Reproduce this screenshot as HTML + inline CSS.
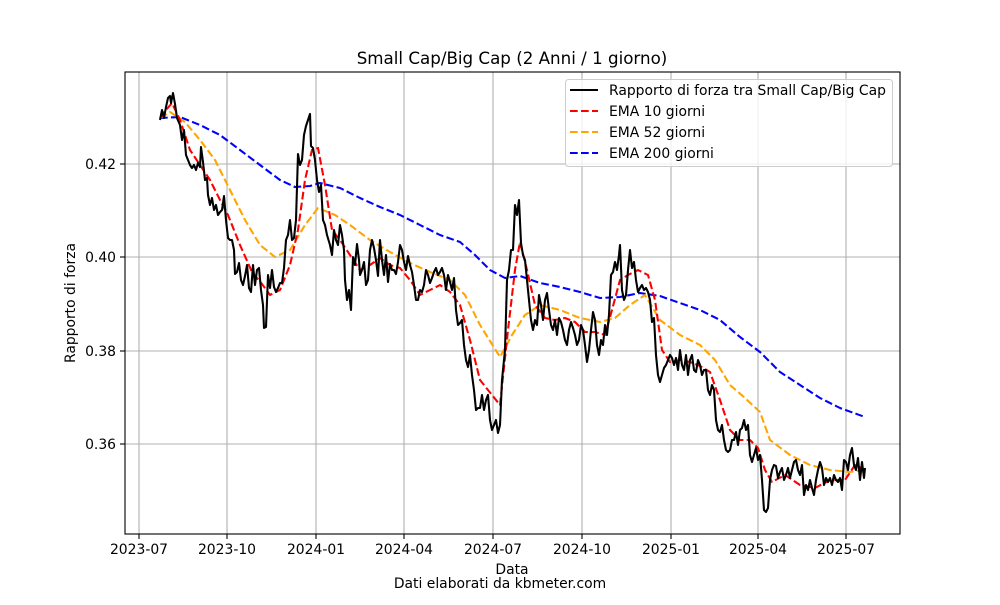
<!DOCTYPE html>
<html><head><meta charset="utf-8"><style>
body{margin:0;background:#fff}
svg text{font-family:"DejaVu Sans","Liberation Sans",sans-serif;fill:#000}
</style></head><body>
<svg width="1000" height="600" viewBox="0 0 1000 600" xmlns="http://www.w3.org/2000/svg">
<rect width="1000" height="600" fill="#fff"/>
<g stroke="#b0b0b0" stroke-width="1.1">
<line x1="139" y1="72" x2="139" y2="534"/><line x1="227" y1="72" x2="227" y2="534"/><line x1="316" y1="72" x2="316" y2="534"/><line x1="404" y1="72" x2="404" y2="534"/><line x1="493" y1="72" x2="493" y2="534"/><line x1="582" y1="72" x2="582" y2="534"/><line x1="671" y1="72" x2="671" y2="534"/><line x1="758" y1="72" x2="758" y2="534"/><line x1="846" y1="72" x2="846" y2="534"/>
<line x1="125" y1="164" x2="900" y2="164"/><line x1="125" y1="257" x2="900" y2="257"/><line x1="125" y1="351" x2="900" y2="351"/><line x1="125" y1="444" x2="900" y2="444"/>
</g>
<g fill="none" stroke-width="2.08" stroke-linejoin="round">
<polyline stroke="#0000ff" stroke-dasharray="7.7,3.3" points="160,118 180,117 200,125 220,135 240,150 260,165 280,180 295,187 310,186 320,183 340,188 360,198 380,207 400,215 420,225 440,235 460,242 475,255 490,270 505,278 520,276 540,283 560,287 580,292 600,298 620,297 640,293 660,296 680,303 700,310 720,320 740,337 760,352 780,372 800,385 820,398 840,408 865,417"/>
<polyline stroke="#ffa500" stroke-dasharray="7.7,3.3" points="160,118 170,112 185,122 200,140 215,160 230,190 245,220 260,245 275,257 290,250 305,225 318,208 335,215 350,225 370,240 390,252 410,263 430,272 450,280 465,295 480,325 500,357 512,335 525,315 540,305 560,310 580,318 600,322 615,318 630,305 645,295 660,320 680,335 700,345 715,360 730,385 745,398 760,412 770,440 790,455 810,465 830,470 850,472 865,470"/>
<polyline stroke="#ff0000" stroke-dasharray="7.7,3.3" points="160,118 166,110 172,103 180,120 190,150 200,165 210,180 220,200 228,215 240,245 252,272 262,284 270,295 280,290 290,265 298,230 305,180 312,150 318,148 325,185 332,230 340,240 350,255 360,270 370,265 380,258 390,265 400,268 410,280 420,295 430,290 440,285 450,292 460,305 470,340 480,380 492,395 500,405 508,330 515,270 520,242 527,270 535,305 545,318 555,320 565,318 575,322 585,332 595,332 605,335 612,310 620,280 628,275 638,270 648,275 655,300 662,350 670,362 680,360 690,362 700,366 710,372 720,400 730,430 740,440 750,440 758,448 765,470 772,482 785,475 800,485 815,488 830,480 845,480 855,465 865,470"/>
<polyline stroke="#000" points="160,120 162,110 164,118 166,107 168,98 170,96 171,103 173,93 175,104 177,118 180,125 182,140 184,130 186,155 188,160 190,165 192,168 194,165 196,170 198,163 200,167 201,147 203,162 205,180 207,178 208,195 210,205 212,198 214,210 216,205 218,215 220,212 222,210 224,196 226,220 228,238 230,240 232,240 234,250 235,274 237,272 239,263 241,280 243,285 245,276 247,265 249,288 251,292 253,265 255,285 257,270 259,268 261,290 263,305 264,328 266,327 268,275 270,288 272,270 274,287 276,292 278,288 280,283 282,283 284,268 286,240 288,235 290,220 292,240 294,238 296,220 298,154 300,165 302,160 304,135 306,126 308,120 310,114 311,146 313,148 315,160 317,180 319,192 321,185 323,220 325,225 327,235 330,245 332,255 334,230 336,240 338,245 340,225 342,235 344,250 345,280 347,300 349,290 351,310 353,257 355,265 357,244 359,260 360,275 362,270 364,262 366,285 368,280 370,250 372,240 374,248 376,260 378,276 380,240 382,260 384,275 386,255 388,282 390,264 392,270 394,270 396,274 398,262 400,245 402,250 404,262 406,270 408,256 410,265 412,272 414,285 416,300 418,300 420,290 422,292 424,285 426,270 428,275 430,283 432,278 434,272 436,268 438,275 440,272 442,268 444,275 446,290 448,275 450,282 452,290 454,278 456,310 458,325 460,323 462,320 464,345 466,360 468,367 470,355 472,375 474,390 476,410 478,408 480,408 482,395 484,410 486,400 488,395 490,420 492,430 494,425 496,420 498,433 500,425 502,380 505,350 507,280 509,270 511,250 513,250 515,205 517,215 519,200 521,243 523,255 525,260 527,280 529,300 531,320 533,330 535,320 537,325 539,295 541,305 543,320 545,300 547,293 549,310 551,325 553,330 555,320 557,335 559,318 561,322 563,330 565,340 567,345 569,330 571,322 573,328 575,335 577,345 579,340 581,325 583,330 585,345 587,362 589,350 591,330 593,312 595,320 597,345 599,355 601,340 603,345 605,325 607,335 609,315 611,275 613,272 615,262 617,270 619,255 620,245 622,290 624,300 626,295 628,270 630,250 632,268 634,262 636,280 638,292 640,288 642,285 644,290 646,288 648,292 650,300 652,322 654,318 656,355 658,375 660,382 662,375 664,368 666,365 668,360 670,355 672,358 674,365 676,358 678,370 680,350 682,365 684,370 686,355 688,375 690,360 692,355 694,370 696,372 698,360 700,365 702,375 704,370 706,370 708,390 710,395 712,385 714,390 716,420 718,430 720,432 722,425 724,440 726,450 728,452 730,450 732,440 734,440 736,432 738,445 740,430 742,428 744,420 746,430 748,425 750,455 752,462 754,455 756,448 758,460 760,455 762,480 764,510 766,512 768,508 770,480 772,470 774,465 776,466 778,478 780,472 782,468 784,480 786,475 788,468 790,478 792,470 794,462 796,460 798,470 800,475 802,465 804,495 806,485 808,490 810,480 812,488 814,495 816,480 818,470 820,462 822,468 824,485 826,478 828,482 830,478 832,485 834,475 836,480 838,482 840,478 842,490 844,460 846,462 848,470 850,455 852,448 854,465 856,470 858,458 860,480 862,462 864,478 865,468"/>
</g>
<rect x="125" y="72" width="775" height="462" fill="none" stroke="#000" stroke-width="1.1"/>
<g stroke="#000" stroke-width="1.1">
<line x1="139" y1="534" x2="139" y2="539"/><line x1="227" y1="534" x2="227" y2="539"/><line x1="316" y1="534" x2="316" y2="539"/><line x1="404" y1="534" x2="404" y2="539"/><line x1="493" y1="534" x2="493" y2="539"/><line x1="582" y1="534" x2="582" y2="539"/><line x1="671" y1="534" x2="671" y2="539"/><line x1="758" y1="534" x2="758" y2="539"/><line x1="846" y1="534" x2="846" y2="539"/>
<line x1="120" y1="164" x2="125" y2="164"/><line x1="120" y1="257" x2="125" y2="257"/><line x1="120" y1="351" x2="125" y2="351"/><line x1="120" y1="444" x2="125" y2="444"/>
</g>
<g font-size="13.9" text-anchor="middle">
<text x="139" y="554">2023-07</text><text x="227" y="554">2023-10</text><text x="316" y="554">2024-01</text><text x="404" y="554">2024-04</text><text x="493" y="554">2024-07</text><text x="582" y="554">2024-10</text><text x="671" y="554">2025-01</text><text x="758" y="554">2025-04</text><text x="846" y="554">2025-07</text>
</g>
<g font-size="13.9" text-anchor="end">
<text x="116" y="169">0.42</text><text x="116" y="262">0.40</text><text x="116" y="356">0.38</text><text x="116" y="449">0.36</text>
</g>
<text x="512" y="574" font-size="13.9" text-anchor="middle">Data</text>
<text x="500" y="588" font-size="13.9" text-anchor="middle">Dati elaborati da kbmeter.com</text>
<text x="75" y="303" font-size="13.9" text-anchor="middle" transform="rotate(-90 75 303)">Rapporto di forza</text>
<text x="512" y="64" font-size="16.7" text-anchor="middle">Small Cap/Big Cap (2 Anni / 1 giorno)</text>
<rect x="565.5" y="79.5" width="327" height="87" rx="3" fill="#fff" fill-opacity="0.8" stroke="#ccc"/>
<g stroke-width="2.08">
<line x1="570" y1="90" x2="598" y2="90" stroke="#000"/>
<line x1="570" y1="111" x2="598" y2="111" stroke="#f00" stroke-dasharray="7.7,3.3"/>
<line x1="570" y1="132" x2="598" y2="132" stroke="#ffa500" stroke-dasharray="7.7,3.3"/>
<line x1="570" y1="153" x2="598" y2="153" stroke="#00f" stroke-dasharray="7.7,3.3"/>
</g>
<g font-size="13.9">
<text x="609" y="95">Rapporto di forza tra Small Cap/Big Cap</text>
<text x="609" y="116">EMA 10 giorni</text>
<text x="609" y="137">EMA 52 giorni</text>
<text x="609" y="158">EMA 200 giorni</text>
</g>
</svg>
</body></html>
